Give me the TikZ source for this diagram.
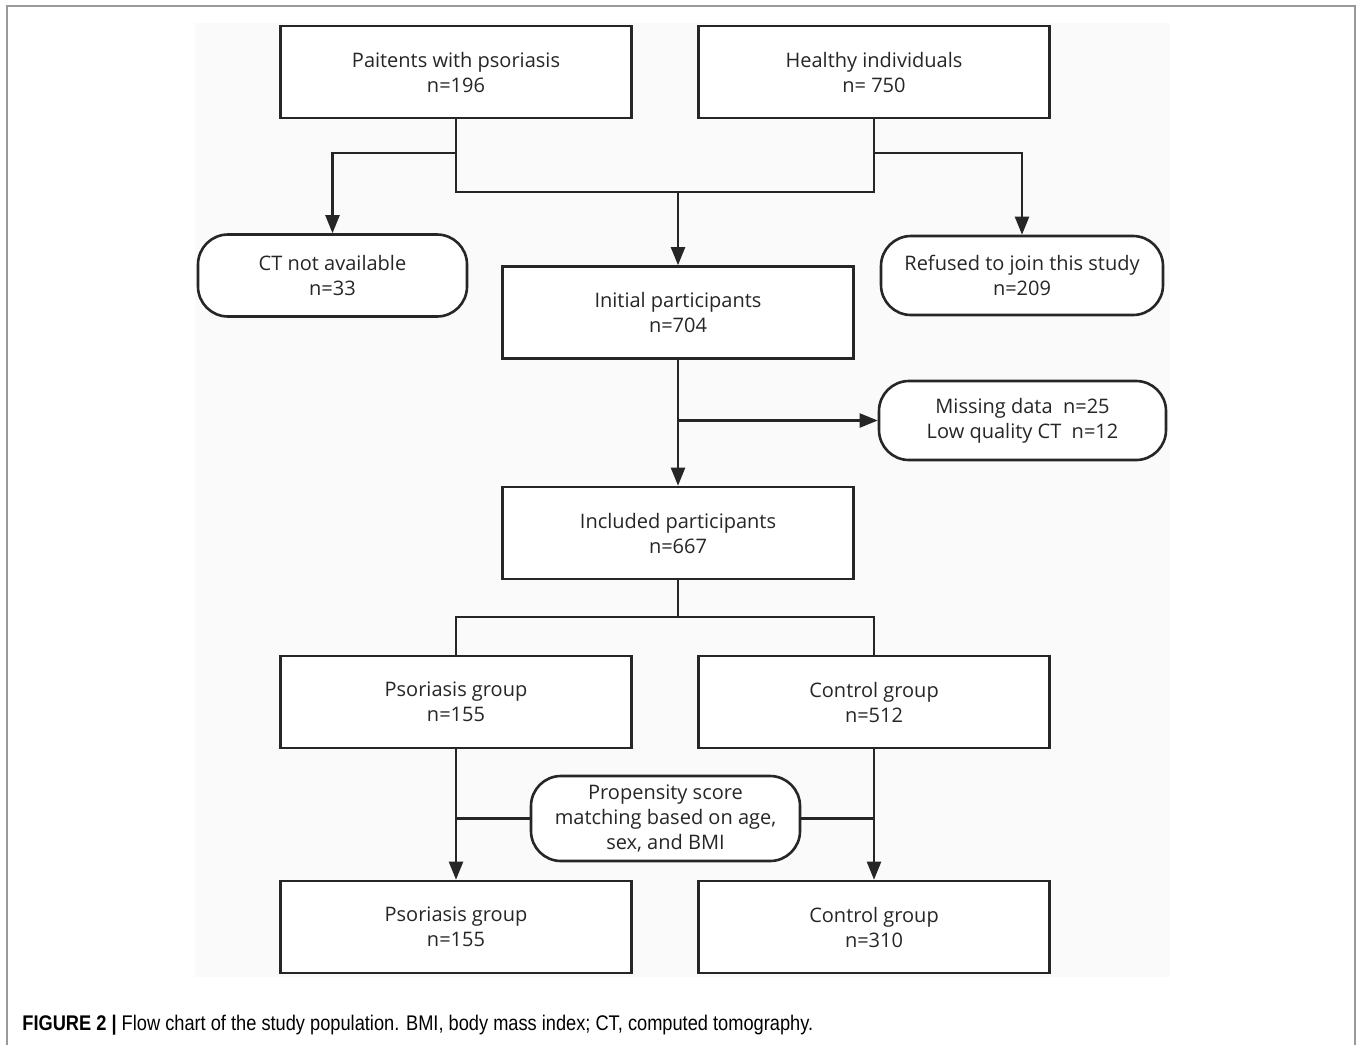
\documentclass[tikz,border=0pt]{standalone}
\usepackage{fontspec}
\setmainfont{Open Sans}
\newfontfamily\capfont[FakeStretch=0.86]{Liberation Sans}
\usetikzlibrary{arrows.meta}

\definecolor{ink}{HTML}{262626}
\definecolor{panel}{HTML}{FAFAFA}

\tikzset{
  box/.style={draw=ink, line width=1.3pt, fill=white, text=ink, align=center,
    minimum width=175.5pt, minimum height=46pt, font=\fontsize{10}{12.5}\selectfont},
  pill/.style={box, rounded corners=15pt, minimum height=41pt},
  arr/.style={-{Triangle[width=7pt,length=9pt]}},
  wire/.style={draw=ink, line width=1.1pt}
}

\begin{document}
\begin{tikzpicture}[x=0.5pt, y=-0.5pt]
\useasboundingbox (0,0) rectangle (1358,1045);
\draw[gray!80, line width=0.6pt] (7,1045) -- (7,6) -- (1355,6) -- (1355,1045);
\fill[panel] (195,23) rectangle (1170,977);

% top row
\node[box] (pso) at (456,72) {Paitents with psoriasis\\n=196};
\node[box] (hea) at (874,72) {Healthy individuals\\n= 750};

% exclusions and first selection
\node[pill, minimum width=134.5pt] (ctna) at (332.5,275.5) {CT not available\\n=33};
\node[pill, minimum width=141pt, minimum height=39.5pt] (refu) at (1022,275.5) {Refused to join this study\\n=209};
\node[box] (init) at (678,312.5) {Initial participants\\n=704};
\node[pill, minimum width=143.5pt, minimum height=39.5pt] (miss) at (1022.5,420.5) {Missing data\ \ n=25\\Low quality CT\ \ n=12};
\node[box] (incl) at (678,533) {Included participants\\n=667};

% groups
\node[box] (psg) at (456,702) {Psoriasis group\\n=155};
\node[box] (ctg) at (874,702) {Control group\\n=512};
\node[pill, minimum width=134.5pt, minimum height=42.5pt] (psm) at (665.5,818.5) {Propensity score\\matching based on age,\\sex, and BMI};
\node[box] (psg2) at (456,927) {Psoriasis group\\n=155};
\node[box] (ctg2) at (874,927) {Control group\\n=310};

\coordinate (j1) at (678,192);
\coordinate (b1) at (456,153);
\coordinate (b2) at (874,153);
\coordinate (j2) at (678,617);

\draw[wire] (pso.south) |- (j1) -| (hea.south);
\draw[wire, arr] (j1) -- (init.north);
\draw[wire, arr] (b1) -| (ctna.north);
\draw[wire, arr] (b2) -| (refu.north);
\draw[wire, arr] (init.south) -- (incl.north);
\draw[wire, arr] (init.south |- miss.west) -- (miss.west);
\draw[wire] (incl.south) -- (j2);
\draw[wire] (psg.north) |- (j2) -| (ctg.north);
\draw[wire, arr] (psg.south) -- (psg2.north);
\draw[wire, arr] (ctg.south) -- (ctg2.north);
\draw[wire] (psm.west) -- (psm.west -| psg.south);
\draw[wire] (psm.east) -- (psm.east -| ctg.south);

\node[anchor=west, inner sep=0pt, font=\capfont\fontsize{10.6}{12}\selectfont, text=black] (cap) at (22,1025)
  {\textbf{FIGURE 2 |} Flow chart of the study population. BMI, body mass index; CT, computed tomography.};
\end{tikzpicture}
\end{document}
